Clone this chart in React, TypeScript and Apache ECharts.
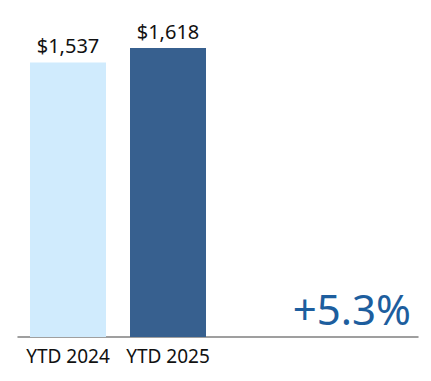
import React, { useEffect, useRef } from "react";
import * as echarts from "echarts";

const categories = ["YTD 2024", "YTD 2025", "", ""];
const values = [1537, 1618];
const barColors = ["#D0EBFD", "#37608F"];
const changeLabel = "+5.3%";

export default function App() {
  const ref = useRef<HTMLDivElement>(null);
  useEffect(() => {
    if (!ref.current) return;
    const chart = echarts.init(ref.current, null, { renderer: "svg" });
    const font = "'Noto Sans', sans-serif";
    chart.setOption({
      animation: false,
      grid: { left: 18, top: 15.5, width: 400, height: 321.5, containLabel: false },
      xAxis: {
        type: "category",
        data: categories,
        axisLine: { show: true, lineStyle: { color: "#808080", width: 1.5 } },
        axisTick: { show: false },
        axisLabel: {
          interval: 0,
          color: "#111",
          fontSize: 19,
          fontFamily: font,
          margin: 9,
        },
      },
      yAxis: {
        type: "value",
        min: 0,
        max: 1800,
        show: false,
        splitLine: { show: false },
      },
      series: [
        {
          type: "bar",
          barWidth: 76,
          data: values.map((v, i) => ({ value: v, itemStyle: { color: barColors[i] } })),
          label: {
            show: true,
            position: "top",
            distance: 7,
            color: "#111",
            fontSize: 20,
            fontFamily: font,
            formatter: (p: any) => "$" + p.value.toLocaleString("en-US"),
          },
        },
      ],
      graphic: [
        {
          type: "text",
          right: 20,
          top: 287,
          style: {
            text: changeLabel,
            fill: "#1D5E9E",
            fontSize: 42,
            fontFamily: font,
          },
        },
      ],
    });
    return () => chart.dispose();
  }, []);
  return <div ref={ref} style={{ width: 431, height: 381, margin: -8 }} />;
}
